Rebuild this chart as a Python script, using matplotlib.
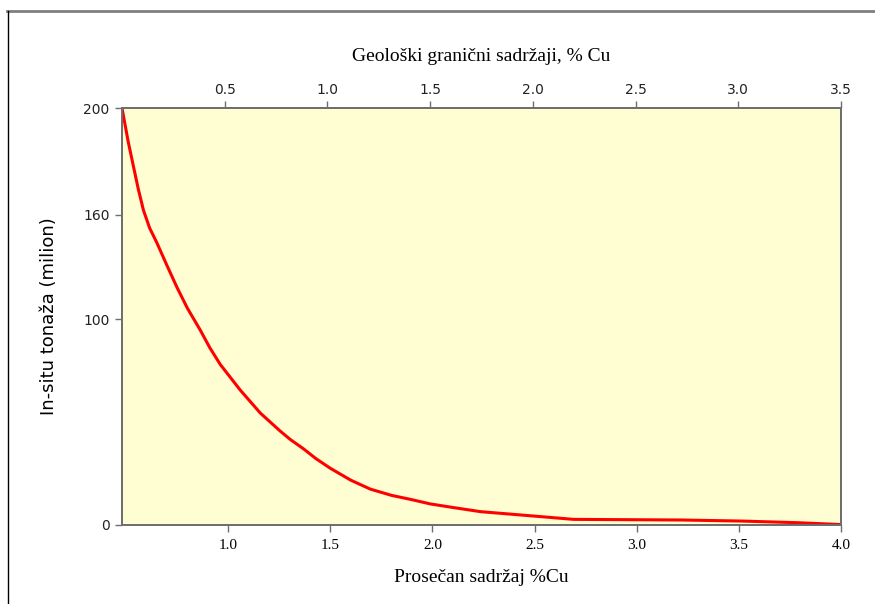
import matplotlib
matplotlib.use("Agg")
import matplotlib.pyplot as plt
from matplotlib.lines import Line2D

# Data
avg_grade = [0.48, 0.51, 0.536, 0.56, 0.585, 0.615, 0.650, 0.700, 0.749, 0.80, 0.863,
             0.91, 0.961, 1.059, 1.157, 1.255, 1.304, 1.369, 1.43, 1.5, 1.60, 1.696,
             1.80, 1.892, 1.990, 2.10, 2.235, 2.495, 2.691, 3.216, 3.510, 3.789, 4.0]
tonnage = [200, 184, 172, 161, 151, 142.5, 135.5, 124.5, 114, 104, 93.5,
           85, 77, 64.7, 53.7, 45, 41, 36.5, 31.8, 27.2, 21.5, 17.2,
           14.2, 12.3, 10.1, 8.4, 6.4, 4.3, 2.7, 2.4, 1.9, 1.1, 0.2]

y_tick_pos = [0, 98.7, 148.7, 200]
y_tick_labels = ["0", "100", "160", "200"]
bottom_ticks = [1.0, 1.5, 2.0, 2.5, 3.0, 3.5, 4.0]
top_ticks = [0.5, 1.0, 1.5, 2.0, 2.5, 3.0, 3.5]

W, H = 875, 604
fig = plt.figure(figsize=(W / 100, H / 100), dpi=100)
fig.patch.set_facecolor("white")

L, R, T, B = 122, 841, 108, 525
ax = fig.add_axes([L / W, 1 - B / H, (R - L) / W, (B - T) / H])
ax.set_facecolor("#FFFDD2")

ax.plot(avg_grade, tonnage, color="#FF0000", lw=2.2, solid_capstyle="round",
        solid_joinstyle="round")
ax.set_xlim(0.48, 4.0)
ax.set_ylim(0, 200)

spine_col = "#6E6E6E"
for s in ax.spines.values():
    s.set_color(spine_col)
    s.set_linewidth(1.3)

serif = "Liberation Serif"
ax.set_xticks(bottom_ticks)
ax.set_xticklabels([f"{v:.1f}" for v in bottom_ticks], fontfamily=serif, fontsize=11)
ax.set_yticks(y_tick_pos)
ax.set_yticklabels(y_tick_labels, fontfamily="DejaVu Sans", fontsize=10, color="#222222")
ax.tick_params(axis="both", direction="out", length=5, width=1, color=spine_col, pad=4)
ax.tick_params(axis="x", pad=5)
ax.set_xlabel("Prosečan sadržaj %Cu", fontfamily=serif, fontsize=14, labelpad=12)
ax.set_ylabel("In-situ tonaža (milion)", fontfamily="DejaVu Sans", fontsize=13, labelpad=18)

top = ax.twiny()
top.set_xlim(0, 3.5)
top.set_xticks(top_ticks)
top.set_xticklabels([f"{v:.1f}" for v in top_ticks], fontfamily="DejaVu Sans", fontsize=10, color="#222222")
top.tick_params(axis="x", direction="out", length=5, width=1, color=spine_col, pad=3)
for s in top.spines.values():
    s.set_color(spine_col)
    s.set_linewidth(1.3)
top.set_xlabel("Geološki granični sadržaji, % Cu", fontfamily=serif, fontsize=14, labelpad=16)

# outer frame lines
fig.add_artist(Line2D([7 / W, 1.0], [1 - 11 / H, 1 - 11 / H], transform=fig.transFigure,
                      color="#808080", lw=2))
fig.add_artist(Line2D([8 / W, 8 / W], [1 - 11 / H, 0], transform=fig.transFigure,
                      color="black", lw=1))

fig.savefig("out.png", dpi=100)
